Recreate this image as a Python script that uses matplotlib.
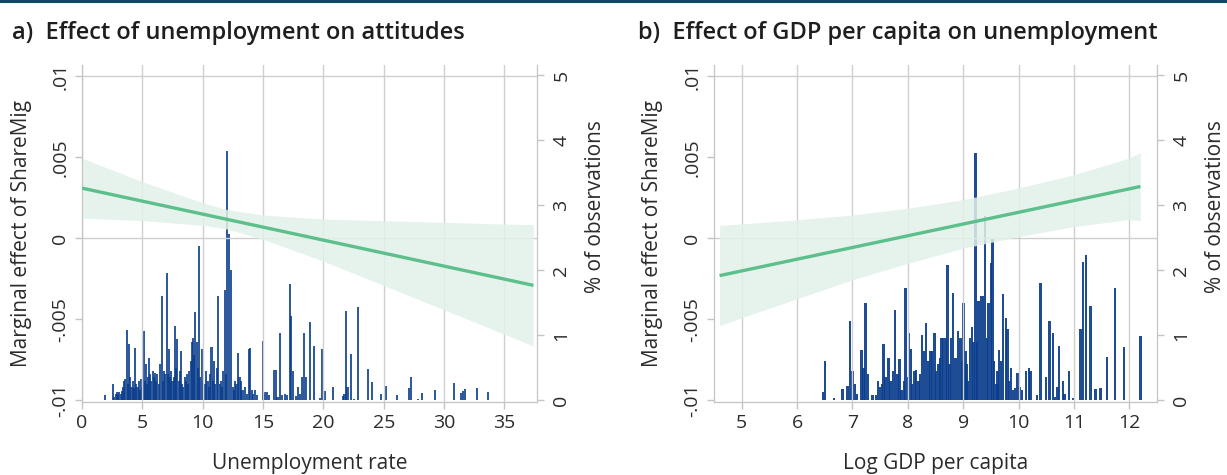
import matplotlib
matplotlib.use('Agg')
import matplotlib.pyplot as plt
from matplotlib.lines import Line2D

plt.rcParams['font.family'] = ['Open Sans', 'DejaVu Sans']

# ---------------- data: panel a (unemployment rate) ----------------
ue_line_x = [0, 37.4]
ue_line_y = [0.0031, -0.0029]
ue_band_x = [0, 5, 10, 12, 15, 20, 25, 30, 35, 37.4]
ue_band_hi = [0.00495, 0.0035, 0.0022, 0.00178, 0.00144, 0.00119, 0.00109, 0.00099, 0.00088, 0.00085]
ue_band_lo = [0.00125, 0.0011, 0.0008, 0.00058, -0.00006, -0.00141, -0.00291, -0.00441, -0.00592, -0.00665]

ue_hist_x = [1.9, 2.55, 2.65, 2.8, 2.9, 3.0, 3.1, 3.2, 3.3, 3.4, 3.5, 3.6, 3.7, 3.8, 3.93, 4.0, 4.1,
             4.2, 4.3, 4.39, 4.5, 4.6, 4.7, 4.8, 4.88, 5.0, 5.1, 5.2, 5.3, 5.4, 5.5, 5.57, 5.65, 5.75,
             5.85, 5.95, 6.05, 6.15, 6.25, 6.35, 6.45, 6.59, 6.7, 6.8, 6.9, 7.03, 7.1, 7.2, 7.3, 7.4,
             7.5, 7.6, 7.7, 7.8, 7.9, 8.0, 8.1, 8.2, 8.3, 8.4, 8.5, 8.6, 8.7, 8.8, 8.9, 9.0, 9.08, 9.2,
             9.3, 9.4, 9.5, 9.6, 9.69, 9.8, 9.96, 10.05, 10.2, 10.3, 10.4, 10.5, 10.6, 10.73, 10.85,
             10.95, 11.05, 11.15, 11.28, 11.4, 11.5, 11.6, 11.7, 11.85, 11.92, 12.05, 12.2, 12.35, 12.5,
             12.6, 12.7, 12.8, 12.93, 13.05, 13.15, 13.3, 13.5, 13.65, 13.8, 13.9, 14.05, 14.2, 14.35,
             14.5, 15.0, 15.1, 15.2, 15.35, 15.5, 15.87, 16.05, 16.2, 16.4, 16.6, 16.85, 17.0, 17.2,
             17.3, 17.5, 17.7, 17.9, 18.05, 18.2, 18.4, 18.55, 18.9, 19.25, 19.7, 19.85, 20.1, 20.8,
             21.6, 21.75, 21.9, 22.0, 22.3, 22.55, 22.9, 23.7, 24.05, 24.8, 25.15, 26.1, 27.07, 27.27,
             27.85, 28.2, 29.27, 30.8, 31.4, 31.55, 31.77, 32.7, 33.66]
ue_hist_pct = [0.08, 0.25, 0.05, 0.10, 0.12, 0.10, 0.13, 0.10, 0.14, 0.20, 0.30, 0.32, 1.08, 0.25, 0.86, 0.35, 0.20,
               0.30, 0.18, 0.80, 0.25, 0.20, 0.30, 0.15, 0.33, 0.20, 1.06, 0.30, 0.56, 0.25, 0.35, 0.64, 0.40, 0.30,
               0.45, 0.35, 0.42, 0.30, 0.40, 0.25, 0.55, 1.60, 0.30, 0.45, 0.40, 1.95, 0.40, 0.78, 0.35, 0.45,
               0.30, 0.35, 1.14, 0.50, 0.94, 0.30, 0.45, 0.75, 0.25, 0.20, 0.35, 0.30, 0.40, 0.25, 0.45, 0.60, 0.89, 0.95,
               0.70, 1.35, 0.90, 0.50, 2.37, 0.35, 0.78, 0.30, 0.25, 0.45, 0.30, 0.20, 0.40, 0.82, 0.30,
               0.60, 0.25, 0.50, 1.60, 0.25, 0.30, 0.20, 0.45, 1.70, 0.40, 3.83, 2.55, 2.00, 0.20,
               0.15, 0.30, 0.25, 0.72, 0.35, 0.30, 0.15, 0.20, 0.10, 0.78, 0.80, 0.15, 0.10, 0.15,
               0.08, 0.91, 0.10, 0.12, 0.12, 0.08, 0.46, 0.46, 0.05, 1.04, 0.08, 0.10, 0.08, 1.78,
               1.30, 0.45, 0.06, 0.20, 0.10, 0.35, 1.04, 0.36, 1.20, 0.84, 0.03, 0.79, 0.14, 0.20,
               0.07, 0.10, 1.37, 0.20, 0.71, 0.02, 1.43, 0.48, 0.28, 0.10, 0.22, 0.08, 0.18, 0.36,
               0.02, 0.11, 0.16, 0.26, 0.11, 0.14, 0.17, 0.18, 0.12]

# ---------------- data: panel b (log GDP per capita) ----------------
gdp_line_x = [4.6, 12.2]
gdp_line_y = [-0.0023, 0.0032]
gdp_band_x = [4.6, 5, 6, 7, 8, 9, 10, 11, 12, 12.2]
gdp_band_hi = [0.0008, 0.00089, 0.00115, 0.00144, 0.00186, 0.00239, 0.00311, 0.00393, 0.00496, 0.0053]
gdp_band_lo = [-0.0054, -0.0049, -0.00373, -0.00256, -0.00154, -0.00061, 0.00011, 0.00073, 0.00116, 0.0011]

gdp_hist_x = [6.47, 6.5, 6.67, 6.82, 6.91, 6.96, 7.0, 7.04, 7.08, 7.16, 7.2, 7.24, 7.28, 7.36, 7.43,
              7.46, 7.5, 7.53, 7.56, 7.6, 7.65, 7.69, 7.73, 7.77, 7.81, 7.85, 7.89, 7.93, 7.96, 8.0, 8.02,
              8.05, 8.08, 8.12, 8.15, 8.19, 8.22, 8.26, 8.29, 8.33, 8.37, 8.41, 8.44, 8.48, 8.51, 8.55,
              8.58, 8.61, 8.64, 8.68, 8.72, 8.75, 8.78, 8.82, 8.86, 8.91, 8.95, 8.98, 9.01, 9.04, 9.06, 9.09,
              9.12, 9.16, 9.19, 9.22, 9.25, 9.28, 9.32, 9.36, 9.39, 9.43, 9.46, 9.5, 9.53, 9.56, 9.6,
              9.62, 9.65, 9.68, 9.72, 9.77, 9.8, 9.83, 9.86, 9.9, 9.94, 9.98, 10.02, 10.06, 10.13, 10.19,
              10.22, 10.33, 10.40, 10.5, 10.56, 10.62, 10.66, 10.7, 10.73, 10.8, 10.83, 10.91, 10.98,
              11.12, 11.16, 11.22, 11.3, 11.39, 11.48, 11.6, 11.74, 11.9, 12.2]
gdp_hist_pct = [0.12, 0.60, 0.03, 0.17, 0.22, 1.22, 0.45, 0.25, 0.10, 0.77, 0.50, 1.49, 0.40, 0.08, 0.08,
                0.30, 0.20, 0.25, 0.87, 0.35, 0.65, 0.30, 0.45, 1.39, 0.40, 0.63, 0.15, 0.30, 1.72, 0.35, 1.04,
                0.78, 0.25, 0.45, 0.46, 0.30, 0.40, 1.00, 0.75, 1.18, 0.60, 0.75, 0.75, 1.03, 0.45, 0.55,
                0.65, 0.95, 0.95, 0.95, 2.08, 0.55, 0.95, 1.65, 0.65, 1.07, 0.95, 0.60, 1.49, 0.75, 0.55, 0.30,
                0.95, 1.12, 0.90, 3.81, 0.90, 1.52, 1.60, 1.60, 2.84, 0.95, 1.50, 2.11, 2.48, 0.60, 0.25,
                0.45, 0.77, 0.60, 1.63, 1.27, 1.10, 0.30, 0.50, 0.15, 0.18, 0.41, 0.20, 0.15, 0.44, 0.50,
                0.45, 0.08, 1.80, 0.36, 1.22, 1.04, 0.05, 0.20, 0.84, 0.30, 0.10, 0.45, 0.03,
                1.10, 2.12, 2.23, 1.45, 0.17, 0.19, 0.66, 1.72, 0.81, 0.98]

ue_xticks = [0, 5, 10, 15, 20, 25, 30, 35]
gdp_xticks = [5, 6, 7, 8, 9, 10, 11, 12]
left_ticks = [-0.01, -0.005, 0, 0.005, 0.01]
left_ticklabels = ['-.01', '-.005', '0', '.005', '.01']
right_ticks = [0, 1, 2, 3, 4, 5]

titles = ['a)  Effect of unemployment on attitudes', 'b)  Effect of GDP per capita on unemployment']
xlabels = ['Unemployment rate', 'Log GDP per capita']
ylabel_left = 'Marginal effect of ShareMig'
ylabel_right = '% of observations'

# ---------------- styling ----------------
GRID = '#cfcfcf'
SPINE = '#c4c4c4'
TXT = '#2b2b2b'
BAR = '#0a3d8c'
LINE = '#5cbf8c'
BAND = '#e2f2e9'

fig = plt.figure(figsize=(12.27, 4.75), dpi=100)
fig.add_artist(Line2D([0, 1], [0.998, 0.998], transform=fig.transFigure, color='#0d4a66', lw=2.2))

panels = [
    dict(rect=[82/1227, 1-402/475, 455/1227, 337/475], xlim=(0, 37.7), xticks=ue_xticks,
         lx=ue_line_x, ly=ue_line_y, bx=ue_band_x, bhi=ue_band_hi, blo=ue_band_lo,
         hx=ue_hist_x, hp=ue_hist_pct, w=0.17, alpha=0.85, tx=12/1227, ylx=-0.11, yrx=1.105),
    dict(rect=[714/1227, 1-402/475, 443/1227, 337/475], xlim=(4.5, 12.5), xticks=gdp_xticks,
         lx=gdp_line_x, ly=gdp_line_y, bx=gdp_band_x, bhi=gdp_band_hi, blo=gdp_band_lo,
         hx=gdp_hist_x, hp=gdp_hist_pct, w=0.045, alpha=0.92, tx=638/1227, ylx=-0.115, yrx=1.108),
]

for i, p in enumerate(panels):
    ax = fig.add_axes(p['rect'])
    axr = ax.twinx()
    ax.set_zorder(axr.get_zorder() + 1)
    ax.patch.set_visible(False)

    # histogram on right axis
    axr.bar(p['hx'], p['hp'], width=p['w'], color=BAR, alpha=p['alpha'], linewidth=0)
    axr.set_ylim(-0.03, 5.16)
    axr.set_yticks(right_ticks)
    axr.set_yticklabels([str(t) for t in right_ticks], rotation=90, va='center')

    # grid lines
    for xt in p['xticks']:
        ax.axvline(xt, color=GRID, lw=1.0, zorder=0.5)
    ax.axhline(0.01, color=GRID, lw=1.0, zorder=0.5)
    ax.axhline(0, color=GRID, lw=1.0, zorder=0.5)

    # band and line
    ax.fill_between(p['bx'], p['blo'], p['bhi'], color=BAND, alpha=0.85, linewidth=0, zorder=1)
    ax.plot(p['lx'], p['ly'], color=LINE, lw=2.4, zorder=3, solid_capstyle='butt')

    ax.set_xlim(*p['xlim'])
    ax.set_ylim(-0.0101, 0.0107)
    ax.set_xticks(p['xticks'])
    ax.set_yticks(left_ticks)
    ax.set_yticklabels(left_ticklabels, rotation=90, va='center')

    for a in (ax, axr):
        a.tick_params(colors=SPINE, labelcolor=TXT, labelsize=14, length=5, width=1)
        for s in a.spines.values():
            s.set_color(SPINE)
        a.spines['top'].set_visible(False)
    ax.tick_params(axis='x', pad=4)
    ax.tick_params(axis='y', pad=4)
    axr.tick_params(axis='y', pad=6)

    ax.set_ylabel(ylabel_left, fontsize=15, color=TXT)
    ax.yaxis.set_label_coords(p['ylx'], 0.5)
    axr.set_ylabel(ylabel_right, fontsize=15, color=TXT)
    axr.yaxis.set_label_coords(p['yrx'], 0.58)
    ax.set_xlabel(xlabels[i], fontsize=15, color=TXT)
    ax.xaxis.set_label_coords(0.5, -0.15)

    fig.text(p['tx'], 1 - 33/475, titles[i], fontsize=17, fontweight=600, color='#1e1e1e',
             va='center', ha='left')

fig.savefig('out.png', dpi=100, facecolor='white')
